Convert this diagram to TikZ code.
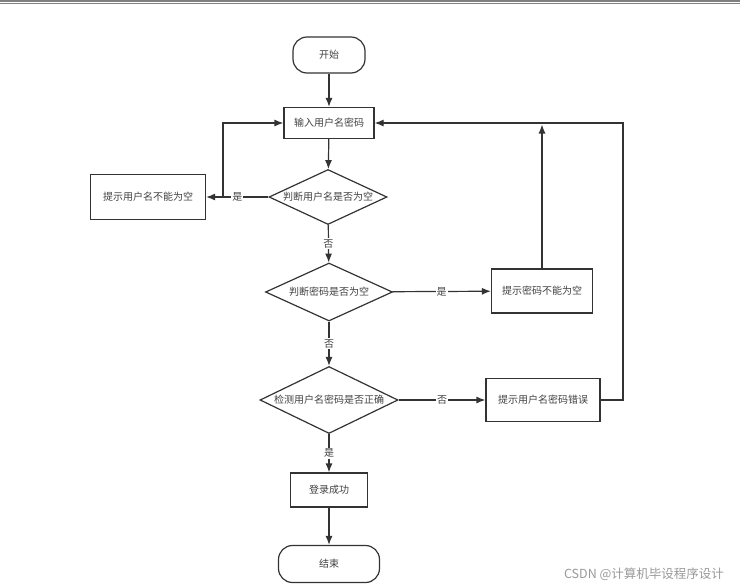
\documentclass[tikz,border=0pt]{standalone}
\usepackage{fontspec}
\newfontfamily\cjk{Noto Sans CJK SC}
\usepackage{tikz}
\usetikzlibrary{arrows.meta, positioning, shapes.geometric}

\tikzset{
    procbox/.style={draw=black!80, line width=1.2pt, rectangle, inner sep=2pt, text=black!75, font=\cjk\fontsize{10}{12}\selectfont},
    terminal/.style={procbox, rounded corners=14pt, minimum width=72pt, minimum height=36pt},
    decision/.style={procbox, diamond, aspect=2.1, inner sep=0pt},
    flow/.style={draw=black!80, line width=1.2pt, -{Latex[length=9pt,width=7pt]}},
    yesno/.style={fill=white, inner sep=1pt, text=black!75, font=\cjk\fontsize{10}{12}\selectfont}
}

\begin{document}
\begin{tikzpicture}[x=1pt, y=-1pt]
        \useasboundingbox (0,0) rectangle (740,587);
        % page rule at the top
        \fill[black!50] (0,0) rectangle (740,2.2);
        \draw[black!50, line width=0.6pt] (0,3.6) -- (740,3.6);

        % steps
        \node[terminal] (start) at (329,55) {开始};
        \node[procbox, minimum width=90pt, minimum height=31pt] (input) at (329,123) {输入用户名密码};
        \node[decision, minimum width=118pt, minimum height=55pt] (chkuser) at (328,197) {判断用户名是否为空};
        \node[procbox, minimum width=115pt, minimum height=45pt] (warnuser) at (148,197) {提示用户名不能为空};
        \node[decision, minimum width=127pt, minimum height=58pt] (chkpass) at (329,292) {判断密码是否为空};
        \node[procbox, minimum width=101pt, minimum height=44pt] (warnpass) at (542,291) {提示密码不能为空};
        \node[decision, minimum width=138pt, minimum height=67pt] (chklogin) at (329,400) {检测用户名密码是否正确};
        \node[procbox, minimum width=114pt, minimum height=43pt] (warnlogin) at (543,400) {提示用户名密码错误};
        \node[procbox, minimum width=77pt, minimum height=34pt] (success) at (329,490) {登录成功};
        \node[terminal, minimum width=101pt, minimum height=37pt] (finish) at (329,564) {结束};

        % turning points of the loops back
        \coordinate (backuser) at (223,197);
        \coordinate (backpass) at (542,124.5);
        \coordinate (rightturn) at (623,123);

        % connectors
        \draw[flow] (start) -- (input);
        \draw[flow] (input) -- (chkuser);
        \draw[flow] (chkuser) -- node[yesno]{是} (warnuser);
        \draw[flow] (backuser) |- (input);
        \draw[flow] (chkuser) -- node[yesno]{否} (chkpass);
        \draw[flow] (chkpass) -- node[yesno]{是} (warnpass);
        \draw[flow] (warnpass) -- (backpass);
        \draw[flow] (chkpass) -- node[yesno]{否} (chklogin);
        \draw[flow] (chklogin) -- node[yesno]{否} (warnlogin);
        \draw[flow] (warnlogin) -| (rightturn) -- (input);
        \draw[flow] (chklogin) -- node[yesno]{是} (success);
        \draw[flow] (success) -- (finish);

        % watermark
        \node[text=black!40, font=\cjk\fontsize{12.5}{14}\selectfont] (mark) at (644,574) {CSDN @计算机毕设程序设计};
    \end{tikzpicture}
\end{document}
